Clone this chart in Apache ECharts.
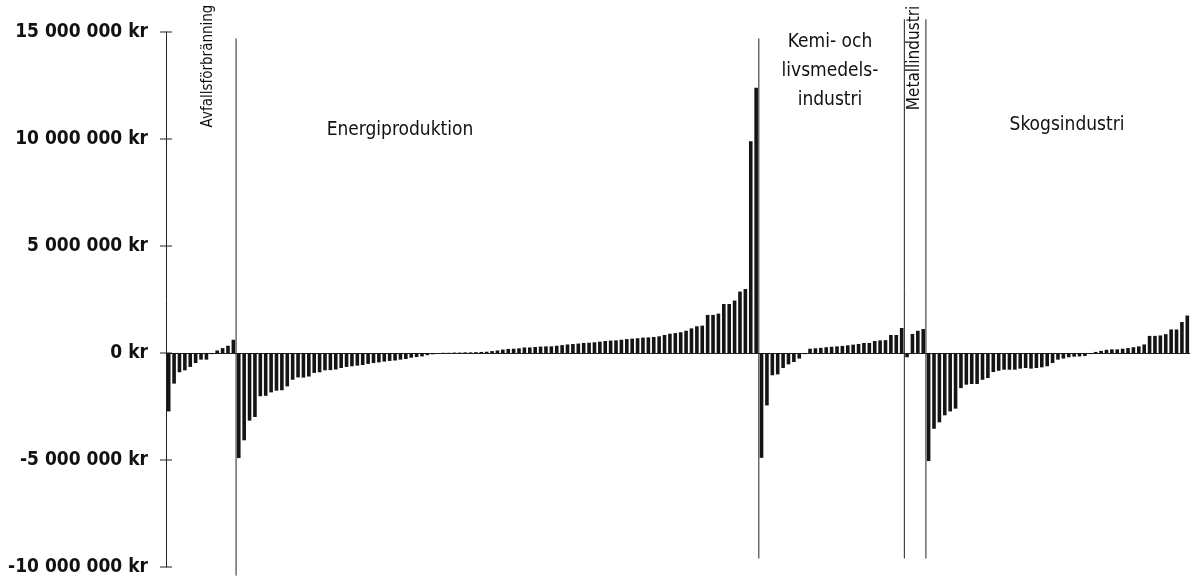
<!DOCTYPE html>
<html>
<head>
<meta charset="utf-8">
<script src="https://cdn.jsdelivr.net/npm/echarts@6/dist/echarts.min.js"></script>
<style>
  html, body { margin: 0; padding: 0; background: #fff; }
  #chart { width: 1190px; height: 580px; }
</style>
</head>
<body>
<div id="chart"></div>
<script>
// värden i miljoner kr, en stapel per anläggning, sorterade inom varje bransch
const avfall = [-2.73, -1.43, -0.9, -0.81, -0.65, -0.47, -0.31, -0.31, -0.05, 0.12, 0.23, 0.34, 0.62];
const energi = [
  -4.91, -4.08, -3.16, -2.99, -2.02, -2.0, -1.84, -1.76, -1.74, -1.56, -1.25, -1.14, -1.15, -1.1,
  -0.93, -0.9, -0.81, -0.8, -0.77, -0.7, -0.65, -0.62, -0.59, -0.56, -0.51, -0.47, -0.44, -0.4,
  -0.37, -0.35, -0.31, -0.28, -0.22, -0.19, -0.16, -0.1, -0.06, -0.03,
  0.01, 0.01, 0.02, 0.02, 0.03, 0.03, 0.04, 0.05,
  0.06, 0.09, 0.12, 0.16, 0.19, 0.2, 0.22, 0.26, 0.26, 0.28, 0.3, 0.31, 0.31, 0.34, 0.37, 0.4,
  0.42, 0.44, 0.47, 0.48, 0.5, 0.53, 0.56, 0.58, 0.59, 0.62, 0.65, 0.67, 0.69, 0.72, 0.73, 0.75,
  0.78, 0.84, 0.9, 0.93, 0.97, 1.04, 1.15, 1.25, 1.28, 1.78, 1.78, 1.84, 2.29, 2.29, 2.45, 2.87,
  2.99, 9.9, 12.4
];
const kemi = [
  -4.9, -2.45, -1.04, -1.0, -0.7, -0.53, -0.42, -0.26, -0.05, 0.2, 0.22, 0.24, 0.27, 0.29,
  0.31, 0.33, 0.36, 0.39, 0.42, 0.47, 0.47, 0.56, 0.59, 0.6, 0.84, 0.84, 1.17
];
const metall = [-0.2, 0.89, 1.04, 1.12];
const skog = [
  -5.05, -3.54, -3.24, -2.91, -2.73, -2.6, -1.64, -1.48, -1.45, -1.45, -1.25, -1.17, -0.89,
  -0.83, -0.78, -0.78, -0.78, -0.73, -0.7, -0.73, -0.7, -0.67, -0.62, -0.47, -0.31, -0.26,
  -0.2, -0.17, -0.16, -0.14, -0.05, 0.05, 0.1, 0.15, 0.17, 0.17, 0.2, 0.23, 0.27, 0.31, 0.4,
  0.8, 0.8, 0.82, 0.88, 1.1, 1.1, 1.45, 1.75
];
const branscher = ["Avfallsförbränning", "Energiproduktion", "Kemi- och\nlivsmedels-\nindustri", "Metallindustri", "Skogsindustri"];
// skiljelinjer: topp och botten i miljoner kr
const sepTop = [14.7, 14.7, 15.6, 15.6];
const sepBottom = [-10.4, -9.6, -9.6, -9.6];
const yTicks = [-10, -5, 0, 5, 10, 15];

const groups = [avfall, energi, kemi, metall, skog];
const values = [].concat(...groups);
const n = values.length;
const barData = values.map((v, i) => [i + 0.5, v]);
const sepData = [];
let pos = 0;
for (let g = 0; g < groups.length - 1; g++) {
  pos += groups[g].length;
  sepData.push([pos, sepTop[g], sepBottom[g]]);
}

const font = '"DejaVu Sans Condensed", "Liberation Sans Narrow", sans-serif';
function krFormat(v) {
  const s = String(Math.abs(Math.round(v * 1e6))).replace(/\B(?=(\d{3})+(?!\d))/g, " ");
  return (v < 0 ? "-" : "") + s + " kr";
}

var myChart = echarts.init(document.getElementById("chart"));
myChart.setOption({
  animation: false,
  backgroundColor: "#fff",
  grid: { left: 166, right: 0, top: 32, bottom: 13 },
  xAxis: {
    type: "value",
    min: 0,
    max: n,
    axisLine: { show: true, onZero: true, lineStyle: { color: "#222", width: 1 } },
    axisTick: { show: false },
    axisLabel: { show: false },
    splitLine: { show: false },
  },
  yAxis: {
    type: "value",
    min: yTicks[0],
    max: yTicks[yTicks.length - 1],
    interval: 5,
    axisLine: { show: true, onZero: false, lineStyle: { color: "#222", width: 1 } },
    axisTick: { show: false },
    axisLabel: {
      margin: 18,
      formatter: krFormat,
      color: "#111",
      fontFamily: font,
      fontWeight: "bold",
      fontSize: 19,
    },
    splitLine: { show: false },
  },
  series: [
    {
      type: "bar",
      data: barData,
      barWidth: 3.6,
      itemStyle: { color: "#141414" },
    },
    {
      // vertikala skiljelinjer mellan branscherna
      type: "custom",
      data: sepData,
      clip: false,
      encode: { x: 0, y: [1, 2] },
      renderItem: function (params, api) {
        const top = api.coord([api.value(0), api.value(1)]);
        const bot = api.coord([api.value(0), api.value(2)]);
        return {
          type: "line",
          shape: { x1: top[0], y1: top[1], x2: bot[0], y2: bot[1] },
          style: { stroke: "#222", lineWidth: 1 },
        };
      },
    },
    {
      // korsande skalstreck på y-axeln
      type: "custom",
      data: yTicks.map((v) => [0, v]),
      clip: false,
      encode: { x: 0, y: 1 },
      renderItem: function (params, api) {
        const p = api.coord([0, api.value(1)]);
        return {
          type: "line",
          shape: { x1: p[0] - 6, y1: p[1], x2: p[0] + 6, y2: p[1] },
          style: { stroke: "#222", lineWidth: 1 },
        };
      },
    },
  ],
  graphic: [
    {
      type: "text", x: 208, y: 66, rotation: Math.PI / 2,
      style: { text: branscher[0], font: "15px " + font, fill: "#111", align: "center", verticalAlign: "middle" },
    },
    {
      type: "text", x: 400, y: 130,
      style: { text: branscher[1], font: "19px " + font, fill: "#111", align: "center", verticalAlign: "middle" },
    },
    {
      type: "text", x: 830, y: 71,
      style: { text: branscher[2], font: "19px " + font, fill: "#111", align: "center", verticalAlign: "middle", lineHeight: 29 },
    },
    {
      type: "text", x: 915, y: 58, rotation: Math.PI / 2,
      style: { text: branscher[3], font: "17px " + font, fill: "#111", align: "center", verticalAlign: "middle" },
    },
    {
      type: "text", x: 1067, y: 125,
      style: { text: branscher[4], font: "19px " + font, fill: "#111", align: "center", verticalAlign: "middle" },
    },
  ],
});
</script>
</body>
</html>
